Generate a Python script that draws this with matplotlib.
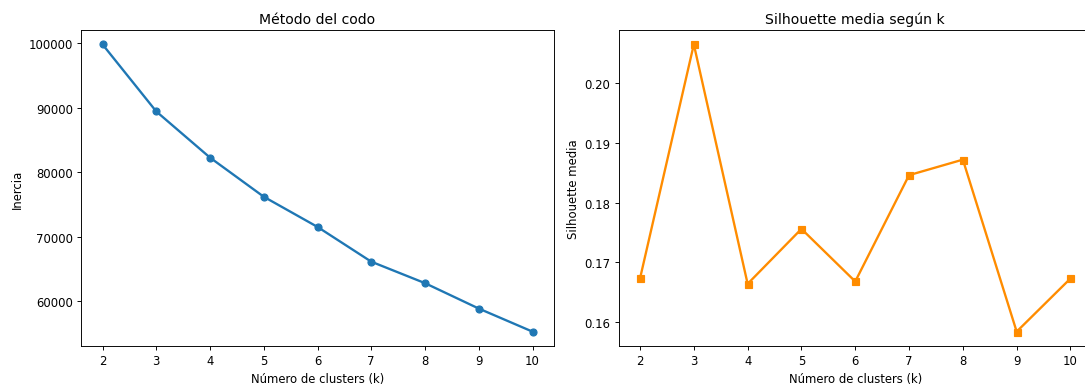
import matplotlib
matplotlib.use('Agg')
from matplotlib import pyplot as plt

k_values = [2, 3, 4, 5, 6, 7, 8, 9, 10]
inercia = [99850, 89450, 82290, 76220, 71540, 66150, 62820, 58880, 55300]
silhouette = [0.1673, 0.2065, 0.1664, 0.1756, 0.1668, 0.1846, 0.1872, 0.1584, 0.1673]

# la referencia parece renderizada a escala ~0.84, asi que bajamos el dpi
DPI = 84
W, H = 1085.0, 387.0
fig = plt.figure(figsize=(W / DPI, H / DPI), dpi=DPI)

# posiciones en pixeles medidas sobre la referencia (el panel derecho queda cortado)
ax1 = fig.add_axes([81 / W, 40 / H, 473 / W, 316 / H])
ax2 = fig.add_axes([618.5 / W, 40 / H, 473.5 / W, 316 / H])

ax1.plot(k_values, inercia, marker='o', color='#1f77b4', linewidth=2)
ax1.set_title('Método del codo')
ax1.set_xlabel('Número de clusters (k)')
ax1.set_ylabel('Inercia')
ax1.set_xticks(k_values)

ax2.plot(k_values, silhouette, marker='s', color='darkorange', linewidth=2)
ax2.set_title('Silhouette media según k')
ax2.set_xlabel('Número de clusters (k)')
ax2.set_ylabel('Silhouette media')
ax2.set_xticks(k_values)

fig.savefig('out.png', dpi=DPI)
